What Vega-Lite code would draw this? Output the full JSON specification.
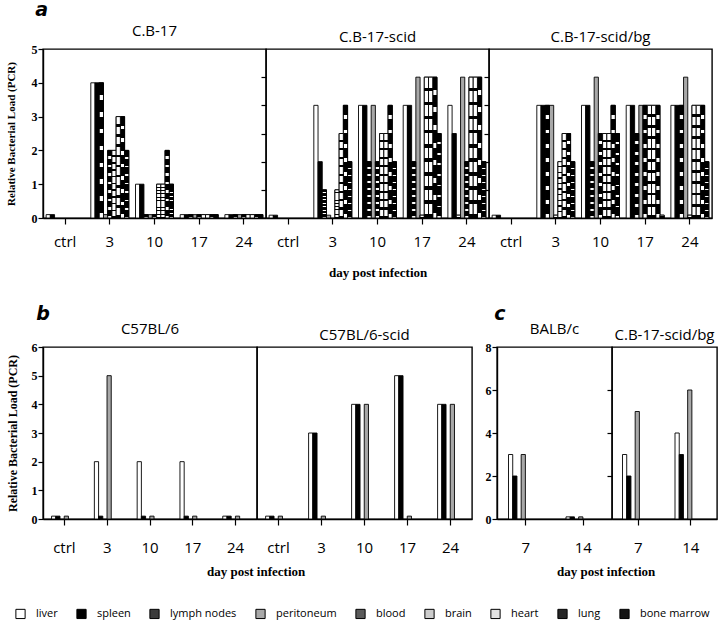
{
"$schema":"https://vega.github.io/schema/vega-lite/v6.json",
"padding":{"left":4,"top":1,"right":4,"bottom":4},
"data":{"values":[
{"panel":"a1","day":"ctrl","organ":"liver","value":0.1},{"panel":"a1","day":"ctrl","organ":"spleen","value":0.1},
{"panel":"a1","day":"3","organ":"liver","value":4},{"panel":"a1","day":"3","organ":"spleen","value":4},{"panel":"a1","day":"3","organ":"lymph nodes","value":4},{"panel":"a1","day":"3","organ":"peritoneum","value":0.1},{"panel":"a1","day":"3","organ":"blood","value":2},{"panel":"a1","day":"3","organ":"brain","value":2},{"panel":"a1","day":"3","organ":"heart","value":3},{"panel":"a1","day":"3","organ":"lung","value":3},{"panel":"a1","day":"3","organ":"bone marrow","value":2},
{"panel":"a1","day":"10","organ":"liver","value":1},{"panel":"a1","day":"10","organ":"spleen","value":1},{"panel":"a1","day":"10","organ":"lymph nodes","value":0.1},{"panel":"a1","day":"10","organ":"peritoneum","value":0.1},{"panel":"a1","day":"10","organ":"blood","value":0.1},{"panel":"a1","day":"10","organ":"brain","value":1},{"panel":"a1","day":"10","organ":"heart","value":1},{"panel":"a1","day":"10","organ":"lung","value":2},{"panel":"a1","day":"10","organ":"bone marrow","value":1},
{"panel":"a1","day":"17","organ":"liver","value":0.1},{"panel":"a1","day":"17","organ":"spleen","value":0.1},{"panel":"a1","day":"17","organ":"lymph nodes","value":0.1},{"panel":"a1","day":"17","organ":"peritoneum","value":0.1},{"panel":"a1","day":"17","organ":"blood","value":0.1},{"panel":"a1","day":"17","organ":"brain","value":0.1},{"panel":"a1","day":"17","organ":"heart","value":0.1},{"panel":"a1","day":"17","organ":"lung","value":0.1},{"panel":"a1","day":"17","organ":"bone marrow","value":0.1},
{"panel":"a1","day":"24","organ":"liver","value":0.1},{"panel":"a1","day":"24","organ":"spleen","value":0.1},{"panel":"a1","day":"24","organ":"lymph nodes","value":0.1},{"panel":"a1","day":"24","organ":"peritoneum","value":0.1},{"panel":"a1","day":"24","organ":"blood","value":0.1},{"panel":"a1","day":"24","organ":"brain","value":0.1},{"panel":"a1","day":"24","organ":"heart","value":0.1},{"panel":"a1","day":"24","organ":"lung","value":0.1},{"panel":"a1","day":"24","organ":"bone marrow","value":0.1},
{"panel":"a2","day":"ctrl","organ":"liver","value":0.1},{"panel":"a2","day":"ctrl","organ":"spleen","value":0.1},
{"panel":"a2","day":"3","organ":"liver","value":4},{"panel":"a2","day":"3","organ":"spleen","value":2},{"panel":"a2","day":"3","organ":"lymph nodes","value":1},{"panel":"a2","day":"3","organ":"peritoneum","value":0.1},{"panel":"a2","day":"3","organ":"brain","value":1},{"panel":"a2","day":"3","organ":"heart","value":3},{"panel":"a2","day":"3","organ":"lung","value":4},{"panel":"a2","day":"3","organ":"bone marrow","value":2},
{"panel":"a2","day":"10","organ":"liver","value":4},{"panel":"a2","day":"10","organ":"spleen","value":4},{"panel":"a2","day":"10","organ":"lymph nodes","value":2},{"panel":"a2","day":"10","organ":"peritoneum","value":4},{"panel":"a2","day":"10","organ":"blood","value":2},{"panel":"a2","day":"10","organ":"brain","value":3},{"panel":"a2","day":"10","organ":"heart","value":3},{"panel":"a2","day":"10","organ":"lung","value":4},{"panel":"a2","day":"10","organ":"bone marrow","value":2},
{"panel":"a2","day":"17","organ":"liver","value":4},{"panel":"a2","day":"17","organ":"spleen","value":4},{"panel":"a2","day":"17","organ":"lymph nodes","value":2},{"panel":"a2","day":"17","organ":"peritoneum","value":5},{"panel":"a2","day":"17","organ":"blood","value":0.1},{"panel":"a2","day":"17","organ":"brain","value":5},{"panel":"a2","day":"17","organ":"heart","value":5},{"panel":"a2","day":"17","organ":"lung","value":5},{"panel":"a2","day":"17","organ":"bone marrow","value":3},
{"panel":"a2","day":"24","organ":"liver","value":4},{"panel":"a2","day":"24","organ":"spleen","value":3},{"panel":"a2","day":"24","organ":"lymph nodes","value":0.1},{"panel":"a2","day":"24","organ":"peritoneum","value":5},{"panel":"a2","day":"24","organ":"blood","value":2},{"panel":"a2","day":"24","organ":"brain","value":5},{"panel":"a2","day":"24","organ":"heart","value":5},{"panel":"a2","day":"24","organ":"lung","value":5},{"panel":"a2","day":"24","organ":"bone marrow","value":2},
{"panel":"a3","day":"ctrl","organ":"liver","value":0.1},{"panel":"a3","day":"ctrl","organ":"spleen","value":0.1},
{"panel":"a3","day":"3","organ":"liver","value":4},{"panel":"a3","day":"3","organ":"spleen","value":4},{"panel":"a3","day":"3","organ":"lymph nodes","value":4},{"panel":"a3","day":"3","organ":"peritoneum","value":4},{"panel":"a3","day":"3","organ":"blood","value":0.1},{"panel":"a3","day":"3","organ":"brain","value":2},{"panel":"a3","day":"3","organ":"heart","value":3},{"panel":"a3","day":"3","organ":"lung","value":3},{"panel":"a3","day":"3","organ":"bone marrow","value":2},
{"panel":"a3","day":"10","organ":"liver","value":4},{"panel":"a3","day":"10","organ":"spleen","value":4},{"panel":"a3","day":"10","organ":"lymph nodes","value":2},{"panel":"a3","day":"10","organ":"peritoneum","value":5},{"panel":"a3","day":"10","organ":"blood","value":3},{"panel":"a3","day":"10","organ":"brain","value":3},{"panel":"a3","day":"10","organ":"heart","value":3},{"panel":"a3","day":"10","organ":"lung","value":4},{"panel":"a3","day":"10","organ":"bone marrow","value":3},
{"panel":"a3","day":"17","organ":"liver","value":4},{"panel":"a3","day":"17","organ":"spleen","value":4},{"panel":"a3","day":"17","organ":"lymph nodes","value":3},{"panel":"a3","day":"17","organ":"peritoneum","value":4},{"panel":"a3","day":"17","organ":"blood","value":4},{"panel":"a3","day":"17","organ":"brain","value":4},{"panel":"a3","day":"17","organ":"heart","value":4},{"panel":"a3","day":"17","organ":"lung","value":4},{"panel":"a3","day":"17","organ":"bone marrow","value":0.1},
{"panel":"a3","day":"24","organ":"liver","value":4},{"panel":"a3","day":"24","organ":"spleen","value":4},{"panel":"a3","day":"24","organ":"lymph nodes","value":4},{"panel":"a3","day":"24","organ":"peritoneum","value":5},{"panel":"a3","day":"24","organ":"blood","value":0.1},{"panel":"a3","day":"24","organ":"brain","value":4},{"panel":"a3","day":"24","organ":"heart","value":4},{"panel":"a3","day":"24","organ":"lung","value":4},{"panel":"a3","day":"24","organ":"bone marrow","value":2},
{"panel":"b1","day":"ctrl","organ":"liver","value":0.1},{"panel":"b1","day":"ctrl","organ":"spleen","value":0.1},{"panel":"b1","day":"ctrl","organ":"peritoneum","value":0.1},
{"panel":"b1","day":"3","organ":"liver","value":2},{"panel":"b1","day":"3","organ":"spleen","value":0.1},{"panel":"b1","day":"3","organ":"peritoneum","value":5},
{"panel":"b1","day":"10","organ":"liver","value":2},{"panel":"b1","day":"10","organ":"spleen","value":0.1},{"panel":"b1","day":"10","organ":"peritoneum","value":0.1},
{"panel":"b1","day":"17","organ":"liver","value":2},{"panel":"b1","day":"17","organ":"spleen","value":0.1},{"panel":"b1","day":"17","organ":"peritoneum","value":0.1},
{"panel":"b1","day":"24","organ":"liver","value":0.1},{"panel":"b1","day":"24","organ":"spleen","value":0.1},{"panel":"b1","day":"24","organ":"peritoneum","value":0.1},
{"panel":"b2","day":"ctrl","organ":"liver","value":0.1},{"panel":"b2","day":"ctrl","organ":"spleen","value":0.1},{"panel":"b2","day":"ctrl","organ":"peritoneum","value":0.1},
{"panel":"b2","day":"3","organ":"liver","value":3},{"panel":"b2","day":"3","organ":"spleen","value":3},{"panel":"b2","day":"3","organ":"peritoneum","value":0.1},
{"panel":"b2","day":"10","organ":"liver","value":4},{"panel":"b2","day":"10","organ":"spleen","value":4},{"panel":"b2","day":"10","organ":"peritoneum","value":4},
{"panel":"b2","day":"17","organ":"liver","value":5},{"panel":"b2","day":"17","organ":"spleen","value":5},{"panel":"b2","day":"17","organ":"peritoneum","value":0.1},
{"panel":"b2","day":"24","organ":"liver","value":4},{"panel":"b2","day":"24","organ":"spleen","value":4},{"panel":"b2","day":"24","organ":"peritoneum","value":4},
{"panel":"c1","day":"7","organ":"liver","value":3},{"panel":"c1","day":"7","organ":"spleen","value":2},{"panel":"c1","day":"7","organ":"peritoneum","value":3},
{"panel":"c1","day":"14","organ":"liver","value":0.1},{"panel":"c1","day":"14","organ":"spleen","value":0.1},{"panel":"c1","day":"14","organ":"peritoneum","value":0.1},
{"panel":"c2","day":"7","organ":"liver","value":3},{"panel":"c2","day":"7","organ":"spleen","value":2},{"panel":"c2","day":"7","organ":"peritoneum","value":5},
{"panel":"c2","day":"14","organ":"liver","value":4},{"panel":"c2","day":"14","organ":"spleen","value":3},{"panel":"c2","day":"14","organ":"peritoneum","value":6}
]},
"spacing":25,
"vconcat":[
 {"title":{"text":"a","anchor":"start","dx":31,"font":"DejaVu Sans","fontSize":19,"fontWeight":"bold","fontStyle":"italic","offset":3},
  "hconcat":[
   {"title":{"text":"day post infection","orient":"bottom","anchor":"start","frame":"group","dx":286,"font":"Liberation Serif","fontSize":13,"fontWeight":"bold","offset":17},
    "bounds":"flush","spacing":0,
    "hconcat":[
     {"width":223,"height":169,"title":{"text":"C.B-17"},
      "transform":[{"filter":"datum.panel==='a1'"}],
      "encoding":{
       "x":{"field":"day","type":"nominal","scale":{"domain":["ctrl","3","10","17","24"],"paddingInner":0.15,"paddingOuter":0.07},"axis":{"title":null,"labelAngle":0,"labelFont":"Open Sans","labelFontSize":15,"labelPadding":10,"tickSize":6}},
       "xOffset":{"field":"organ","type":"nominal","scale":{"domain":["liver","spleen","lymph nodes","peritoneum","blood","brain","heart","lung","bone marrow"]}},
       "y":{"field":"value","type":"quantitative","scale":{"domain":[0,5],"nice":false},"axis":{"values":[0,1,2,3,4,5],"title":"Relative Bacterial Load (PCR)","titleFont":"Liberation Serif","titleFontSize":11,"titleFontWeight":"bold","titlePadding":15,"labelFont":"Liberation Serif","labelFontWeight":"bold","labelFontSize":12,"labelPadding":1,"tickSize":5}}
      },
      "layer":[
       {"mark":{"type":"bar","stroke":"black","strokeWidth":0.9},
        "encoding":{"color":{"field":"organ","type":"nominal","scale":{"domain":["liver","spleen","lymph nodes","peritoneum","blood","brain","heart","lung","bone marrow"]},"legend":{"title":null}}}},
       {"transform":[{"filter":"datum.organ==='lymph nodes' || datum.organ==='blood' || datum.organ==='lung'"}],
        "mark":{"type":"bar","stroke":"black","strokeWidth":0.9,"fill":{"gradient":"linear","x1":0,"y1":0,"x2":0,"y2":1,"stops":[{"offset":0,"color":"black"},{"offset":0.09,"color":"black"},{"offset":0.09,"color":"white"},{"offset":0.125,"color":"white"},{"offset":0.125,"color":"black"},{"offset":0.215,"color":"black"},{"offset":0.215,"color":"white"},{"offset":0.25,"color":"white"},{"offset":0.25,"color":"black"},{"offset":0.34,"color":"black"},{"offset":0.34,"color":"white"},{"offset":0.375,"color":"white"},{"offset":0.375,"color":"black"},{"offset":0.465,"color":"black"},{"offset":0.465,"color":"white"},{"offset":0.5,"color":"white"},{"offset":0.5,"color":"black"},{"offset":0.59,"color":"black"},{"offset":0.59,"color":"white"},{"offset":0.625,"color":"white"},{"offset":0.625,"color":"black"},{"offset":0.715,"color":"black"},{"offset":0.715,"color":"white"},{"offset":0.75,"color":"white"},{"offset":0.75,"color":"black"},{"offset":0.84,"color":"black"},{"offset":0.84,"color":"white"},{"offset":0.875,"color":"white"},{"offset":0.875,"color":"black"},{"offset":0.965,"color":"black"},{"offset":0.965,"color":"white"},{"offset":1,"color":"white"}]}}},
       {"transform":[{"filter":"datum.organ==='brain' || datum.organ==='heart'"}],
        "mark":{"type":"bar","stroke":"black","strokeWidth":0.9,"fill":{"gradient":"linear","x1":0,"y1":0,"x2":0,"y2":1,"stops":[{"offset":0,"color":"white"},{"offset":0.075,"color":"white"},{"offset":0.075,"color":"black"},{"offset":0.1,"color":"black"},{"offset":0.1,"color":"white"},{"offset":0.175,"color":"white"},{"offset":0.175,"color":"black"},{"offset":0.2,"color":"black"},{"offset":0.2,"color":"white"},{"offset":0.275,"color":"white"},{"offset":0.275,"color":"black"},{"offset":0.3,"color":"black"},{"offset":0.3,"color":"white"},{"offset":0.375,"color":"white"},{"offset":0.375,"color":"black"},{"offset":0.4,"color":"black"},{"offset":0.4,"color":"white"},{"offset":0.475,"color":"white"},{"offset":0.475,"color":"black"},{"offset":0.5,"color":"black"},{"offset":0.5,"color":"white"},{"offset":0.575,"color":"white"},{"offset":0.575,"color":"black"},{"offset":0.6,"color":"black"},{"offset":0.6,"color":"white"},{"offset":0.675,"color":"white"},{"offset":0.675,"color":"black"},{"offset":0.7,"color":"black"},{"offset":0.7,"color":"white"},{"offset":0.775,"color":"white"},{"offset":0.775,"color":"black"},{"offset":0.8,"color":"black"},{"offset":0.8,"color":"white"},{"offset":0.875,"color":"white"},{"offset":0.875,"color":"black"},{"offset":0.9,"color":"black"},{"offset":0.9,"color":"white"},{"offset":0.975,"color":"white"},{"offset":0.975,"color":"black"},{"offset":1,"color":"black"}]}}},
       {"transform":[{"filter":"datum.organ==='bone marrow'"}],
        "mark":{"type":"bar","stroke":"black","strokeWidth":0.9,"fill":{"gradient":"linear","x1":0,"y1":0,"x2":0,"y2":1,"stops":[{"offset":0,"color":"black"},{"offset":0.105,"color":"black"},{"offset":0.105,"color":"white"},{"offset":0.125,"color":"white"},{"offset":0.125,"color":"black"},{"offset":0.23,"color":"black"},{"offset":0.23,"color":"white"},{"offset":0.25,"color":"white"},{"offset":0.25,"color":"black"},{"offset":0.355,"color":"black"},{"offset":0.355,"color":"white"},{"offset":0.375,"color":"white"},{"offset":0.375,"color":"black"},{"offset":0.48,"color":"black"},{"offset":0.48,"color":"white"},{"offset":0.5,"color":"white"},{"offset":0.5,"color":"black"},{"offset":0.605,"color":"black"},{"offset":0.605,"color":"white"},{"offset":0.625,"color":"white"},{"offset":0.625,"color":"black"},{"offset":0.73,"color":"black"},{"offset":0.73,"color":"white"},{"offset":0.75,"color":"white"},{"offset":0.75,"color":"black"},{"offset":0.855,"color":"black"},{"offset":0.855,"color":"white"},{"offset":0.875,"color":"white"},{"offset":0.875,"color":"black"},{"offset":0.98,"color":"black"},{"offset":0.98,"color":"white"},{"offset":1,"color":"white"}]}}}
      ]},
     {"width":223,"height":169,"title":{"text":"C.B-17-scid"},
      "transform":[{"filter":"datum.panel==='a2'"}],
      "encoding":{
       "x":{"field":"day","type":"nominal","scale":{"domain":["ctrl","3","10","17","24"],"paddingInner":0.15,"paddingOuter":0.07},"axis":{"title":null,"labelAngle":0,"labelFont":"Open Sans","labelFontSize":15,"labelPadding":10,"tickSize":6}},
       "xOffset":{"field":"organ","type":"nominal","scale":{"domain":["liver","spleen","lymph nodes","peritoneum","blood","brain","heart","lung","bone marrow"]}},
       "y":{"field":"value","type":"quantitative","scale":{"domain":[0,6],"nice":false},"axis":{"values":[1,2,3,4,5],"labels":false,"domain":false,"title":null,"tickSize":5}}
      },
      "layer":[
       {"mark":{"type":"bar","stroke":"black","strokeWidth":0.9},
        "encoding":{"color":{"field":"organ","type":"nominal","scale":{"domain":["liver","spleen","lymph nodes","peritoneum","blood","brain","heart","lung","bone marrow"]},"legend":{"title":null}}}},
       {"transform":[{"filter":"datum.organ==='lymph nodes' || datum.organ==='blood' || datum.organ==='lung'"}],
        "mark":{"type":"bar","stroke":"black","strokeWidth":0.9,"fill":{"gradient":"linear","x1":0,"y1":0,"x2":0,"y2":1,"stops":[{"offset":0,"color":"black"},{"offset":0.09,"color":"black"},{"offset":0.09,"color":"white"},{"offset":0.125,"color":"white"},{"offset":0.125,"color":"black"},{"offset":0.215,"color":"black"},{"offset":0.215,"color":"white"},{"offset":0.25,"color":"white"},{"offset":0.25,"color":"black"},{"offset":0.34,"color":"black"},{"offset":0.34,"color":"white"},{"offset":0.375,"color":"white"},{"offset":0.375,"color":"black"},{"offset":0.465,"color":"black"},{"offset":0.465,"color":"white"},{"offset":0.5,"color":"white"},{"offset":0.5,"color":"black"},{"offset":0.59,"color":"black"},{"offset":0.59,"color":"white"},{"offset":0.625,"color":"white"},{"offset":0.625,"color":"black"},{"offset":0.715,"color":"black"},{"offset":0.715,"color":"white"},{"offset":0.75,"color":"white"},{"offset":0.75,"color":"black"},{"offset":0.84,"color":"black"},{"offset":0.84,"color":"white"},{"offset":0.875,"color":"white"},{"offset":0.875,"color":"black"},{"offset":0.965,"color":"black"},{"offset":0.965,"color":"white"},{"offset":1,"color":"white"}]}}},
       {"transform":[{"filter":"datum.organ==='brain' || datum.organ==='heart'"}],
        "mark":{"type":"bar","stroke":"black","strokeWidth":0.9,"fill":{"gradient":"linear","x1":0,"y1":0,"x2":0,"y2":1,"stops":[{"offset":0,"color":"white"},{"offset":0.075,"color":"white"},{"offset":0.075,"color":"black"},{"offset":0.1,"color":"black"},{"offset":0.1,"color":"white"},{"offset":0.175,"color":"white"},{"offset":0.175,"color":"black"},{"offset":0.2,"color":"black"},{"offset":0.2,"color":"white"},{"offset":0.275,"color":"white"},{"offset":0.275,"color":"black"},{"offset":0.3,"color":"black"},{"offset":0.3,"color":"white"},{"offset":0.375,"color":"white"},{"offset":0.375,"color":"black"},{"offset":0.4,"color":"black"},{"offset":0.4,"color":"white"},{"offset":0.475,"color":"white"},{"offset":0.475,"color":"black"},{"offset":0.5,"color":"black"},{"offset":0.5,"color":"white"},{"offset":0.575,"color":"white"},{"offset":0.575,"color":"black"},{"offset":0.6,"color":"black"},{"offset":0.6,"color":"white"},{"offset":0.675,"color":"white"},{"offset":0.675,"color":"black"},{"offset":0.7,"color":"black"},{"offset":0.7,"color":"white"},{"offset":0.775,"color":"white"},{"offset":0.775,"color":"black"},{"offset":0.8,"color":"black"},{"offset":0.8,"color":"white"},{"offset":0.875,"color":"white"},{"offset":0.875,"color":"black"},{"offset":0.9,"color":"black"},{"offset":0.9,"color":"white"},{"offset":0.975,"color":"white"},{"offset":0.975,"color":"black"},{"offset":1,"color":"black"}]}}},
       {"transform":[{"filter":"datum.organ==='bone marrow'"}],
        "mark":{"type":"bar","stroke":"black","strokeWidth":0.9,"fill":{"gradient":"linear","x1":0,"y1":0,"x2":0,"y2":1,"stops":[{"offset":0,"color":"black"},{"offset":0.105,"color":"black"},{"offset":0.105,"color":"white"},{"offset":0.125,"color":"white"},{"offset":0.125,"color":"black"},{"offset":0.23,"color":"black"},{"offset":0.23,"color":"white"},{"offset":0.25,"color":"white"},{"offset":0.25,"color":"black"},{"offset":0.355,"color":"black"},{"offset":0.355,"color":"white"},{"offset":0.375,"color":"white"},{"offset":0.375,"color":"black"},{"offset":0.48,"color":"black"},{"offset":0.48,"color":"white"},{"offset":0.5,"color":"white"},{"offset":0.5,"color":"black"},{"offset":0.605,"color":"black"},{"offset":0.605,"color":"white"},{"offset":0.625,"color":"white"},{"offset":0.625,"color":"black"},{"offset":0.73,"color":"black"},{"offset":0.73,"color":"white"},{"offset":0.75,"color":"white"},{"offset":0.75,"color":"black"},{"offset":0.855,"color":"black"},{"offset":0.855,"color":"white"},{"offset":0.875,"color":"white"},{"offset":0.875,"color":"black"},{"offset":0.98,"color":"black"},{"offset":0.98,"color":"white"},{"offset":1,"color":"white"}]}}}
      ]},
     {"width":223,"height":169,"title":{"text":"C.B-17-scid/bg"},
      "transform":[{"filter":"datum.panel==='a3'"}],
      "encoding":{
       "x":{"field":"day","type":"nominal","scale":{"domain":["ctrl","3","10","17","24"],"paddingInner":0.15,"paddingOuter":0.07},"axis":{"title":null,"labelAngle":0,"labelFont":"Open Sans","labelFontSize":15,"labelPadding":10,"tickSize":6}},
       "xOffset":{"field":"organ","type":"nominal","scale":{"domain":["liver","spleen","lymph nodes","peritoneum","blood","brain","heart","lung","bone marrow"]}},
       "y":{"field":"value","type":"quantitative","scale":{"domain":[0,6],"nice":false},"axis":{"values":[1,2,3,4,5],"labels":false,"domain":false,"title":null,"tickSize":5}}
      },
      "layer":[
       {"mark":{"type":"bar","stroke":"black","strokeWidth":0.9},
        "encoding":{"color":{"field":"organ","type":"nominal","scale":{"domain":["liver","spleen","lymph nodes","peritoneum","blood","brain","heart","lung","bone marrow"]},"legend":{"title":null}}}},
       {"transform":[{"filter":"datum.organ==='lymph nodes' || datum.organ==='blood' || datum.organ==='lung'"}],
        "mark":{"type":"bar","stroke":"black","strokeWidth":0.9,"fill":{"gradient":"linear","x1":0,"y1":0,"x2":0,"y2":1,"stops":[{"offset":0,"color":"black"},{"offset":0.09,"color":"black"},{"offset":0.09,"color":"white"},{"offset":0.125,"color":"white"},{"offset":0.125,"color":"black"},{"offset":0.215,"color":"black"},{"offset":0.215,"color":"white"},{"offset":0.25,"color":"white"},{"offset":0.25,"color":"black"},{"offset":0.34,"color":"black"},{"offset":0.34,"color":"white"},{"offset":0.375,"color":"white"},{"offset":0.375,"color":"black"},{"offset":0.465,"color":"black"},{"offset":0.465,"color":"white"},{"offset":0.5,"color":"white"},{"offset":0.5,"color":"black"},{"offset":0.59,"color":"black"},{"offset":0.59,"color":"white"},{"offset":0.625,"color":"white"},{"offset":0.625,"color":"black"},{"offset":0.715,"color":"black"},{"offset":0.715,"color":"white"},{"offset":0.75,"color":"white"},{"offset":0.75,"color":"black"},{"offset":0.84,"color":"black"},{"offset":0.84,"color":"white"},{"offset":0.875,"color":"white"},{"offset":0.875,"color":"black"},{"offset":0.965,"color":"black"},{"offset":0.965,"color":"white"},{"offset":1,"color":"white"}]}}},
       {"transform":[{"filter":"datum.organ==='brain' || datum.organ==='heart'"}],
        "mark":{"type":"bar","stroke":"black","strokeWidth":0.9,"fill":{"gradient":"linear","x1":0,"y1":0,"x2":0,"y2":1,"stops":[{"offset":0,"color":"white"},{"offset":0.075,"color":"white"},{"offset":0.075,"color":"black"},{"offset":0.1,"color":"black"},{"offset":0.1,"color":"white"},{"offset":0.175,"color":"white"},{"offset":0.175,"color":"black"},{"offset":0.2,"color":"black"},{"offset":0.2,"color":"white"},{"offset":0.275,"color":"white"},{"offset":0.275,"color":"black"},{"offset":0.3,"color":"black"},{"offset":0.3,"color":"white"},{"offset":0.375,"color":"white"},{"offset":0.375,"color":"black"},{"offset":0.4,"color":"black"},{"offset":0.4,"color":"white"},{"offset":0.475,"color":"white"},{"offset":0.475,"color":"black"},{"offset":0.5,"color":"black"},{"offset":0.5,"color":"white"},{"offset":0.575,"color":"white"},{"offset":0.575,"color":"black"},{"offset":0.6,"color":"black"},{"offset":0.6,"color":"white"},{"offset":0.675,"color":"white"},{"offset":0.675,"color":"black"},{"offset":0.7,"color":"black"},{"offset":0.7,"color":"white"},{"offset":0.775,"color":"white"},{"offset":0.775,"color":"black"},{"offset":0.8,"color":"black"},{"offset":0.8,"color":"white"},{"offset":0.875,"color":"white"},{"offset":0.875,"color":"black"},{"offset":0.9,"color":"black"},{"offset":0.9,"color":"white"},{"offset":0.975,"color":"white"},{"offset":0.975,"color":"black"},{"offset":1,"color":"black"}]}}},
       {"transform":[{"filter":"datum.organ==='bone marrow'"}],
        "mark":{"type":"bar","stroke":"black","strokeWidth":0.9,"fill":{"gradient":"linear","x1":0,"y1":0,"x2":0,"y2":1,"stops":[{"offset":0,"color":"black"},{"offset":0.105,"color":"black"},{"offset":0.105,"color":"white"},{"offset":0.125,"color":"white"},{"offset":0.125,"color":"black"},{"offset":0.23,"color":"black"},{"offset":0.23,"color":"white"},{"offset":0.25,"color":"white"},{"offset":0.25,"color":"black"},{"offset":0.355,"color":"black"},{"offset":0.355,"color":"white"},{"offset":0.375,"color":"white"},{"offset":0.375,"color":"black"},{"offset":0.48,"color":"black"},{"offset":0.48,"color":"white"},{"offset":0.5,"color":"white"},{"offset":0.5,"color":"black"},{"offset":0.605,"color":"black"},{"offset":0.605,"color":"white"},{"offset":0.625,"color":"white"},{"offset":0.625,"color":"black"},{"offset":0.73,"color":"black"},{"offset":0.73,"color":"white"},{"offset":0.75,"color":"white"},{"offset":0.75,"color":"black"},{"offset":0.855,"color":"black"},{"offset":0.855,"color":"white"},{"offset":0.875,"color":"white"},{"offset":0.875,"color":"black"},{"offset":0.98,"color":"black"},{"offset":0.98,"color":"white"},{"offset":1,"color":"white"}]}}}
      ]}
    ]}
  ]},
 {"spacing":11,
  "hconcat":[
   {"title":{"text":"b","anchor":"start","dx":31,"font":"DejaVu Sans","fontSize":19,"fontWeight":"bold","fontStyle":"italic","offset":-3},
    "hconcat":[
     {"title":{"text":"day post infection","orient":"bottom","anchor":"start","frame":"group","dx":164,"font":"Liberation Serif","fontSize":13,"fontWeight":"bold","offset":10},
      "bounds":"flush","spacing":0,
      "hconcat":[
       {"width":214,"height":172,"title":{"text":"C57BL/6"},
        "transform":[{"filter":"datum.panel==='b1'"}],
        "mark":{"type":"bar","stroke":"black","strokeWidth":0.9},
        "encoding":{
         "x":{"field":"day","type":"nominal","scale":{"domain":["ctrl","3","10","17","24"],"paddingInner":0.4,"paddingOuter":0.2},"axis":{"title":null,"labelAngle":0,"labelFont":"Open Sans","labelFontSize":15,"labelPadding":15,"tickSize":6}},
         "xOffset":{"field":"organ","type":"nominal","scale":{"domain":["liver","spleen","peritoneum"]}},
         "y":{"field":"value","type":"quantitative","scale":{"domain":[0,6],"nice":false},"axis":{"values":[0,1,2,3,4,5,6],"title":"Relative Bacterial Load (PCR)","titleFont":"Liberation Serif","titleFontSize":12,"titleFontWeight":"bold","titlePadding":12,"labelFont":"Liberation Serif","labelFontWeight":"bold","labelFontSize":12,"labelPadding":1,"tickSize":5}},
         "color":{"field":"organ","type":"nominal","scale":{"domain":["liver","spleen","lymph nodes","peritoneum","blood","brain","heart","lung","bone marrow"]},"legend":{"title":null}}
        }},
       {"width":215,"height":172,"title":{"text":"C57BL/6-scid"},
        "transform":[{"filter":"datum.panel==='b2'"}],
        "mark":{"type":"bar","stroke":"black","strokeWidth":0.9},
        "encoding":{
         "x":{"field":"day","type":"nominal","scale":{"domain":["ctrl","3","10","17","24"],"paddingInner":0.4,"paddingOuter":0.2},"axis":{"title":null,"labelAngle":0,"labelFont":"Open Sans","labelFontSize":15,"labelPadding":15,"tickSize":6}},
         "xOffset":{"field":"organ","type":"nominal","scale":{"domain":["liver","spleen","peritoneum"]}},
         "y":{"field":"value","type":"quantitative","scale":{"domain":[0,6],"nice":false},"axis":null},
         "color":{"field":"organ","type":"nominal","scale":{"domain":["liver","spleen","lymph nodes","peritoneum","blood","brain","heart","lung","bone marrow"]},"legend":{"title":null}}
        }}
      ]}
    ]},
   {"title":{"text":"c","anchor":"start","dx":10,"font":"DejaVu Sans","fontSize":19,"fontWeight":"bold","fontStyle":"italic","offset":-3},
    "hconcat":[
     {"title":{"text":"day post infection","orient":"bottom","anchor":"start","frame":"group","dx":60,"font":"Liberation Serif","fontSize":13,"fontWeight":"bold","offset":10},
      "bounds":"flush","spacing":0,
      "hconcat":[
       {"width":115,"height":172,"title":{"text":"BALB/c"},
        "transform":[{"filter":"datum.panel==='c1'"}],
        "mark":{"type":"bar","stroke":"black","strokeWidth":0.9},
        "encoding":{
         "x":{"field":"day","type":"nominal","scale":{"domain":["7","14"],"paddingInner":0.4,"paddingOuter":0.2},"axis":{"title":null,"labelAngle":0,"labelFont":"Open Sans","labelFontSize":15,"labelPadding":15,"tickSize":6}},
         "xOffset":{"field":"organ","type":"nominal","scale":{"domain":["liver","spleen","peritoneum"]}},
         "y":{"field":"value","type":"quantitative","scale":{"domain":[0,8],"nice":false},"axis":{"values":[0,2,4,6,8],"title":null,"labelFont":"Liberation Serif","labelFontWeight":"bold","labelFontSize":12,"labelPadding":1,"tickSize":5}},
         "color":{"field":"organ","type":"nominal","scale":{"domain":["liver","spleen","lymph nodes","peritoneum","blood","brain","heart","lung","bone marrow"]},"legend":{"title":null}}
        }},
       {"width":105,"height":172,"title":{"text":"C.B-17-scid/bg"},
        "transform":[{"filter":"datum.panel==='c2'"}],
        "mark":{"type":"bar","stroke":"black","strokeWidth":0.9},
        "encoding":{
         "x":{"field":"day","type":"nominal","scale":{"domain":["7","14"],"paddingInner":0.4,"paddingOuter":0.2},"axis":{"title":null,"labelAngle":0,"labelFont":"Open Sans","labelFontSize":15,"labelPadding":15,"tickSize":6}},
         "xOffset":{"field":"organ","type":"nominal","scale":{"domain":["liver","spleen","peritoneum"]}},
         "y":{"field":"value","type":"quantitative","scale":{"domain":[0,8],"nice":false},"axis":{"values":[2,4,6],"labels":false,"domain":false,"title":null,"tickSize":5}},
         "color":{"field":"organ","type":"nominal","scale":{"domain":["liver","spleen","lymph nodes","peritoneum","blood","brain","heart","lung","bone marrow"]},"legend":{"title":null}}
        }}
      ]}
    ]}
  ]}
],
"config":{
 "view":{"stroke":"black","strokeWidth":1.4},
 "axis":{"domainColor":"black","tickColor":"black","labelColor":"black","titleColor":"black","grid":false,"domainWidth":1.4,"tickWidth":1.2},
 "title":{"font":"Open Sans","fontSize":15,"fontWeight":"normal","color":"black","offset":0},
 "legend":{"orient":"none","legendX":-28,"legendY":559,"direction":"horizontal","columns":9,"symbolType":"square","symbolSize":85,"symbolStrokeColor":"black","symbolStrokeWidth":1,"labelFont":"Open Sans","labelFontSize":11,"labelColor":"black","labelOffset":10,"columnPadding":16,"padding":0},
 "range":{"category":["white","black","#3a3a3a","#a8a8a8","#5a5a5a","#cccccc","#e2e2e2","#262626","#141414"]}
}
}
